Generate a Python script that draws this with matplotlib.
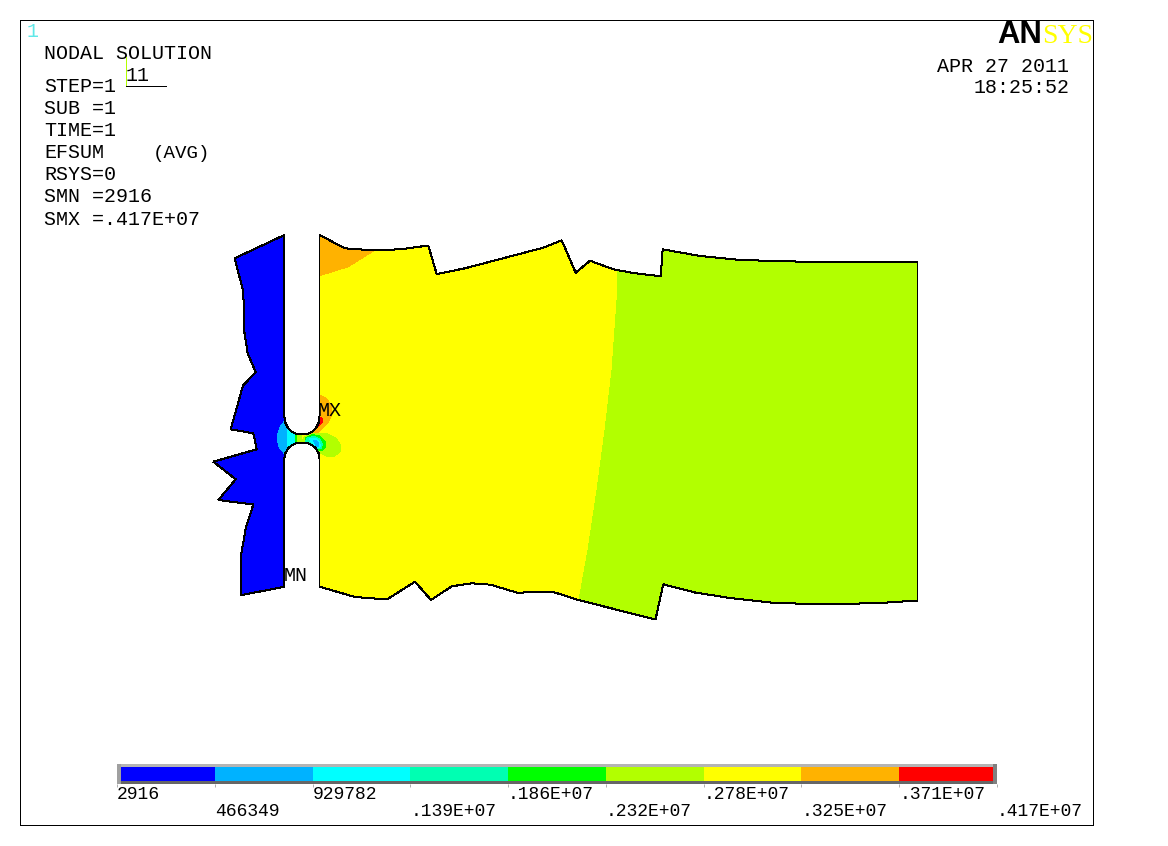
import matplotlib
matplotlib.use("Agg")
import matplotlib.pyplot as plt
from matplotlib.patches import Polygon, Rectangle

# ---- colour-bar data ----
levels = [2916, 466349, 929782, 1393215, 1856648, 2320081, 2783514, 3246947, 3710380, 4173813]
level_labels = ["2916", "466349", "929782", ".139E+07", ".186E+07", ".232E+07",
                ".278E+07", ".325E+07", ".371E+07", ".417E+07"]
band_colors = ["#0000ff", "#00b2ff", "#00ffff", "#00ffb2", "#00ff00",
               "#b2ff00", "#ffff00", "#ffb200", "#ff0000"]

# ---- model geometry ----
left_edge = [(284.4, 235), (234.7, 258.3), (243.3, 291.7), (244.3, 331.7), (247.7, 353.3),
             (255.7, 372.3), (243, 385.5), (230.7, 429.3), (253.3, 433.3), (256.7, 449.3),
             (213.3, 461.7), (235.7, 479.3), (218.3, 500), (253.3, 504.5), (245.7, 528.3),
             (240.7, 557.3), (240.7, 595.3), (284.4, 586.7)]
lower_slot = [(284.4, 586.7), (284.4, 458), (285.5, 453), (288, 448.5), (292, 445), (297, 443),
              (302, 442.5), (307, 443), (312, 445), (316, 448.5), (318.5, 453), (319.5, 458),
              (319.5, 586.7)]
bottom_edge = [(319.5, 586.7), (355, 597), (376.7, 598.7), (387.7, 599), (415, 581.7), (431, 600),
               (451.7, 586.3), (471.7, 583.3), (490.7, 584.7), (519, 593.3), (525, 592.3),
               (553.3, 592), (578.3, 600), (655.5, 619.5), (663.3, 584.3), (695, 592.5),
               (730, 598), (770, 602.5), (820, 604.5), (880, 603), (917.5, 600.5)]
right_edge = [(917.5, 600.5), (917.5, 262.5)]
top_edge = [(917.5, 262.5), (880, 262), (820, 262), (770, 261), (735, 259.5), (700, 256),
            (662.7, 249.3), (660.7, 276.3), (633.3, 273), (613.3, 269.3), (590, 260.7),
            (575.7, 272.7), (561.7, 240.3), (543.3, 247.7), (465, 268.3), (436.7, 274),
            (428.3, 245.5), (405, 248.7), (388.3, 250), (368.3, 250), (345, 248.3), (319.5, 235)]
upper_slot = [(319.5, 235), (319.5, 417), (318.5, 423), (316, 428), (312, 432), (307, 434),
              (302, 434.5), (297, 434), (292, 432), (288, 428), (285.5, 423), (284.4, 417),
              (284.4, 235)]

# ---- contour bands: (colour index, outline) ----
band_green = [(617.5, 262), (617, 300), (612, 370), (605, 430), (597, 490), (588, 550), (579, 600),
              (655, 640), (930, 640), (930, 240), (617.5, 240)]
band_blue = [(200, 220), (284.4, 220), (284.4, 610), (200, 610)]
band_top = [(319.5, 230), (345, 245), (373.3, 248), (373.3, 251), (348.3, 266.7), (319.5, 275.7)]
band_lens = [(284.6, 421), (280, 427), (277.5, 435), (277.5, 441), (279, 447), (284.6, 454),
             (287.3, 446), (287.3, 431)]
band_neck_cyan = [(287.3, 425), (295, 425), (295, 452), (287.3, 452)]
band_neck_green = [(295, 425), (297, 425), (297, 452), (295, 452)]
band_neck_lime = [(297, 425), (302, 425), (302, 452), (297, 452)]
band_mx_orange = [(319.5, 395), (326, 398), (331, 405), (332, 414), (328, 423), (321, 430),
                  (314, 436), (305, 430)]
band_mx_red = [(319.5, 418), (321.5, 417.5), (323, 421.5), (319, 426), (315, 429.5), (311, 428)]
blob_lime = [(304, 437), (315, 433), (328, 434), (336, 438), (340.5, 445), (340, 452),
             (334, 456.5), (326, 456), (318, 452), (300, 445)]
blob_green = [(305, 438), (312, 434.5), (320, 436), (325, 441), (326, 447), (322, 451),
              (316, 450), (305, 444)]
blob_spring = [(307, 438), (314, 436.5), (320, 439), (322.5, 444), (321, 449), (316, 449), (305, 442)]
blob_cyan = [(309, 438.5), (315, 438), (319, 441), (320.5, 446), (318, 448), (313, 444)]
blob_blue = [(313, 440), (316, 440), (318.5, 443), (319, 447), (316, 446)]

bands = [(0, band_blue), (5, band_green), (7, band_top), (1, band_lens), (2, band_neck_cyan),
         (4, band_neck_green), (5, band_neck_lime), (7, band_mx_orange), (8, band_mx_red),
         (5, blob_lime), (4, blob_green), (3, blob_spring), (2, blob_cyan), (1, blob_blue)]

# ---- annotation text ----
info_lines = [("NODAL SOLUTION", 59), ("STEP=1", 92), ("SUB =1", 114), ("TIME=1", 136),
              ("EFSUM", 158), ("RSYS=0", 180.5), ("SMN =2916", 202.5), ("SMX =.417E+07", 225)]

MONO = "Liberation Mono"
FS = 14.4
PX = 0.72

fig = plt.figure(figsize=(11.68, 8.46), dpi=100, facecolor="white")
ax = fig.add_axes([0, 0, 1, 1])
ax.set_xlim(0, 1168)
ax.set_ylim(846, 0)
ax.axis("off")

# window frame
ax.add_patch(Rectangle((20, 20), 1073, 805, fill=False, ec="black", lw=PX, antialiased=False))

# model
outline = left_edge + lower_slot[1:] + bottom_edge[1:] + right_edge[1:] + top_edge[1:] + upper_slot[1:]
body = Polygon(outline, closed=True, fc=band_colors[6], ec="none", antialiased=False, zorder=1)
ax.add_patch(body)
for idx, pts in bands:
    p = Polygon(pts, closed=True, fc=band_colors[idx], ec="none", antialiased=False, zorder=2)
    ax.add_patch(p)
    p.set_clip_path(body)
ax.add_patch(Polygon(outline, closed=True, fill=False, ec="black", lw=PX, antialiased=False,
                     joinstyle="miter", zorder=3))

# text block
ax.text(27, 37, "1", family=MONO, fontsize=FS, color="#60e8e8", va="baseline", ha="left")
for s, y in info_lines:
    ax.text(44, y, s, family=MONO, fontsize=FS, color="black", va="baseline", ha="left")
ax.text(153, 158, "(AVG)", family=MONO, fontsize=13.8, color="black", va="baseline", ha="left")
ax.text(126, 81, "11", family=MONO, fontsize=FS, color="black", va="baseline", ha="left")
ax.plot([125.5, 125.5], [57, 86], color="#b2ff00", lw=PX, antialiased=False, zorder=4)
ax.plot([125.5, 166], [86, 86], color="black", lw=PX, antialiased=False, zorder=4)
ax.text(1069, 71.7, "APR 27 2011", family=MONO, fontsize=FS, color="black", va="baseline", ha="right")
ax.text(1069.5, 93.3, "18:25:52", family=MONO, fontsize=FS, color="black", va="baseline", ha="right")
ax.text(317.5, 416, "MX", family=MONO, fontsize=FS, color="black", va="baseline", ha="left", zorder=5)
ax.text(283.5, 581, "MN", family=MONO, fontsize=FS, color="black", va="baseline", ha="left", zorder=5)

# logo
ax.text(1042, 43, "AN", family="Liberation Sans", weight="bold", fontsize=22.3, color="black",
        va="baseline", ha="right")
ax.text(1042, 43, "SYS", family="Liberation Serif", fontsize=20, color="#ffff00",
        va="baseline", ha="left")

# colour bar: axes spans x 117..997, y 767..784 px
W, H = 1168.0, 846.0
cax = fig.add_axes([117 / W, 1 - 784 / H, 880 / W, 17 / H])
cax.set_xlim(levels[0], levels[-1])
cax.set_ylim(0, 1)
cax.patch.set_visible(False)
for s in cax.spines.values():
    s.set_visible(False)
cax.set_yticks([])
widths = [b - a for a, b in zip(levels[:-1], levels[1:])]
cax.bar(levels[:-1], [1] * len(widths), width=widths, align="edge", color=band_colors,
        antialiased=False, linewidth=0)
cax.set_xticks(levels)
cax.set_xticklabels(level_labels, family=MONO, fontsize=13, ha="left", color="black")
cax.tick_params(axis="x", length=3 * PX, width=PX, color="#b0b0b0")
for i, t in enumerate(cax.xaxis.get_major_ticks()):
    t.set_pad((12 if i % 2 == 0 else 29) * PX)
    t.label1.set_va("baseline")

# bevel of the colour bar, in picture pixels
bevel = [((117, 764), 880, 3, "#b4b4b4"), ((117, 781), 880, 3, "#666666"),
         ((117, 764), 4, 20, "#a0a0a0"), ((993, 764), 4, 20, "#808080")]
for xy, w, h, c in bevel:
    cax.add_patch(Rectangle(xy, w, h, fc=c, ec="none", transform=ax.transData, clip_on=False,
                            antialiased=False, zorder=5))

fig.savefig("out.png", dpi=100, facecolor="white")
